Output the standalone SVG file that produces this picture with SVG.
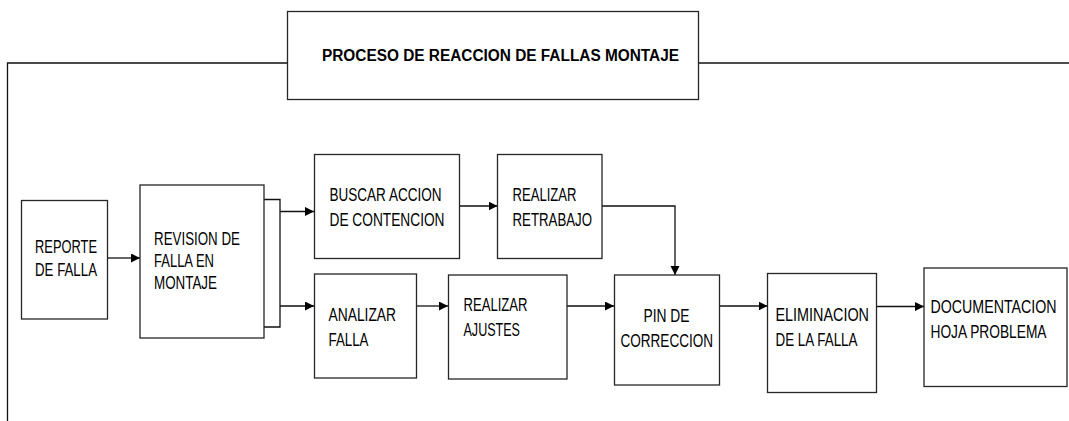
<svg xmlns="http://www.w3.org/2000/svg" width="1069" height="421" viewBox="0 0 1069 421">
<style>
.box{fill:#fff;stroke:#262626;stroke-width:1.3}
.ln{fill:none;stroke:#111;stroke-width:1.3}
.t{font-family:"Liberation Sans",Arial,sans-serif;font-size:18.5px;fill:#000}
.ts{font-size:15px}
.title{font-family:"Liberation Sans",Arial,sans-serif;font-size:16px;font-weight:bold;fill:#000}
</style>
<defs>
<marker id="ah" markerUnits="userSpaceOnUse" markerWidth="10" markerHeight="10" refX="9" refY="4.5" orient="auto">
<path d="M0,0 L9,4.5 L0,9 z" fill="#000"/>
</marker>
</defs>
<rect width="1069" height="421" fill="#fff"/>
<g id="frame">
<polyline class="ln" points="7.5,421 7.5,63 287,63"/>
<line class="ln" x1="698" y1="63" x2="1069" y2="63"/>
</g>
<g id="title">
<rect class="box" x="287.5" y="11.5" width="411" height="88"/>
<text class="title" x="322" y="61" textLength="357" lengthAdjust="spacingAndGlyphs">PROCESO DE REACCION DE FALLAS MONTAJE</text>
</g>
<g id="connectors">
<line class="ln" x1="108" y1="258" x2="140" y2="258" marker-end="url(#ah)"/>
<polyline class="ln" points="264,199.5 280,199.5 280,327 264,327"/>
<line class="ln" x1="280" y1="211.5" x2="314" y2="211.5" marker-end="url(#ah)"/>
<line class="ln" x1="280" y1="306" x2="314" y2="306" marker-end="url(#ah)"/>
<line class="ln" x1="459" y1="206" x2="497.5" y2="206" marker-end="url(#ah)"/>
<polyline class="ln" points="602,206 675,206 675,275" marker-end="url(#ah)"/>
<line class="ln" x1="416" y1="306" x2="448" y2="306" marker-end="url(#ah)"/>
<line class="ln" x1="567" y1="306" x2="614" y2="306" marker-end="url(#ah)"/>
<line class="ln" x1="719" y1="306" x2="767.5" y2="306" marker-end="url(#ah)"/>
<line class="ln" x1="876" y1="306.5" x2="924" y2="306.5" marker-end="url(#ah)"/>
</g>
<g id="reporte">
<rect class="box" x="21.5" y="200.5" width="86" height="118.5"/>
<text class="t" x="35" y="252.5" textLength="62" lengthAdjust="spacingAndGlyphs">REPORTE</text>
<text class="t" x="35" y="276" textLength="62" lengthAdjust="spacingAndGlyphs">DE FALLA</text>
</g>
<g id="revision">
<rect class="box" x="140" y="185" width="124" height="153"/>
<text class="t" x="154" y="245" textLength="86" lengthAdjust="spacingAndGlyphs">REVISION DE</text>
<text class="t" x="154" y="266.5" textLength="60" lengthAdjust="spacingAndGlyphs">FALLA EN</text>
<text class="t" x="154" y="289" textLength="63" lengthAdjust="spacingAndGlyphs">MONTAJE</text>
</g>
<g id="buscar">
<rect class="box" x="314.5" y="154.5" width="145" height="104"/>
<text class="t" x="329.5" y="201" textLength="112" lengthAdjust="spacingAndGlyphs">BUSCAR ACCION</text>
<text class="t" x="329.5" y="225.5" textLength="115" lengthAdjust="spacingAndGlyphs">DE CONTENCION</text>
</g>
<g id="retrabajo">
<rect class="box" x="497.5" y="154.5" width="104.5" height="104"/>
<text class="t" x="512.5" y="201" textLength="64" lengthAdjust="spacingAndGlyphs">REALIZAR</text>
<text class="t" x="512.5" y="225.5" textLength="79.5" lengthAdjust="spacingAndGlyphs">RETRABAJO</text>
</g>
<g id="analizar">
<rect class="box" x="314.5" y="274" width="102" height="104"/>
<text class="t" x="328.5" y="320.5" textLength="67.5" lengthAdjust="spacingAndGlyphs">ANALIZAR</text>
<text class="t" x="328.5" y="346" textLength="40" lengthAdjust="spacingAndGlyphs">FALLA</text>
</g>
<g id="ajustes">
<rect class="box" x="448.5" y="275" width="118.5" height="104"/>
<text class="t" x="463.5" y="310.5" textLength="64" lengthAdjust="spacingAndGlyphs">REALIZAR</text>
<text class="t" x="463.5" y="335.5" textLength="56.5" lengthAdjust="spacingAndGlyphs">AJUSTES</text>
</g>
<g id="pin">
<rect class="box" x="614.5" y="275" width="105" height="110"/>
<text class="t" x="643.5" y="321.5" textLength="46" lengthAdjust="spacingAndGlyphs">PIN DE</text>
<text class="t" x="620.5" y="346.5" textLength="92.5" lengthAdjust="spacingAndGlyphs">CORRECCION</text>
</g>
<g id="eliminacion">
<rect class="box" x="767.5" y="273.5" width="109" height="119"/>
<text class="t" x="775.5" y="320.5" textLength="93.5" lengthAdjust="spacingAndGlyphs">ELIMINACION</text>
<text class="t" x="775.5" y="345.5" textLength="82" lengthAdjust="spacingAndGlyphs">DE LA FALLA</text>
</g>
<g id="documentacion">
<rect class="box" x="924" y="268" width="143" height="118.5"/>
<text class="t ts" x="930.5" y="313" textLength="126" lengthAdjust="spacingAndGlyphs" transform="matrix(1,0,0,1.22,0,-68.86)">DOCUMENTACION</text>
<text class="t ts" x="930.5" y="338.5" textLength="116" lengthAdjust="spacingAndGlyphs" transform="matrix(1,0,0,1.22,0,-74.47)">HOJA PROBLEMA</text>
</g>
</svg>
